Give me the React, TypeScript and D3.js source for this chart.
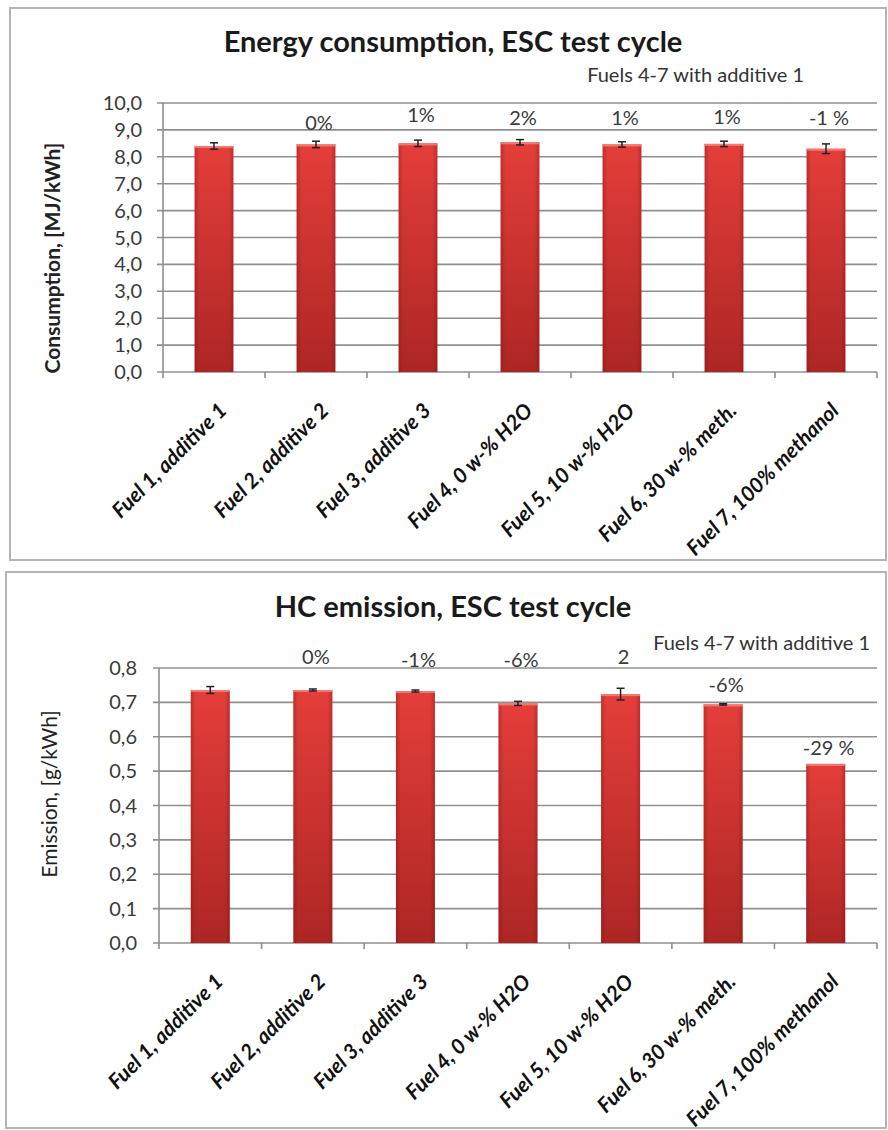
import React from "react";
import * as d3 from "d3";

const categories = [
  "Fuel 1, additive 1",
  "Fuel 2, additive 2",
  "Fuel 3, additive 3",
  "Fuel 4, 0 w-% H2O",
  "Fuel 5, 10 w-% H2O",
  "Fuel 6, 30 w-% meth.",
  "Fuel 7, 100% methanol",
];

// Energy consumption [MJ/kWh]
const energyValues = [8.4, 8.46, 8.5, 8.54, 8.46, 8.48, 8.3];
const energyErrors = [0.12, 0.12, 0.12, 0.1, 0.1, 0.1, 0.18];
const energyPctLabels = ["", "0%", "1%", "2%", "1%", "1%", "-1 %"];
const energyLabelLevel = [0, 9.26, 9.55, 9.44, 9.44, 9.48, 9.44];
const energyTicks = [0, 1, 2, 3, 4, 5, 6, 7, 8, 9, 10];

// HC emission [g/kWh]
const hcValues = [0.736, 0.736, 0.733, 0.697, 0.724, 0.694, 0.521];
const hcErrors = [0.01, 0.003, 0.003, 0.006, 0.017, 0.002, 0.0];
const hcPctLabels = ["", "0%", "-1%", "-6%", "2", "-6%", "-29 %"];
const hcLabelLevel = [0, 0.832, 0.823, 0.823, 0.832, 0.75, 0.567];
const hcTicks = [0, 0.1, 0.2, 0.3, 0.4, 0.5, 0.6, 0.7, 0.8];

const FONT = "Lato, 'Open Sans', sans-serif";
const fmtComma = (v: number) => d3.format(".1f")(v).replace(".", ",");

type ChartProps = {
  box: { x: number; y: number; w: number; h: number };
  plot: { left: number; right: number; top: number; bottom: number };
  title: string;
  titleY: number;
  noteX: number;
  noteY: number;
  yTitle: string;
  yTitleBold: boolean;
  yTitleX: number;
  yTitleY: number;
  tickLabelX: number;
  values: number[];
  errors: number[];
  pctLabels: string[];
  labelLevel: number[];
  ticks: number[];
  yMax: number;
  gradId: string;
};

function Chart(p: ChartProps) {
  const x = d3
    .scaleBand<string>()
    .domain(categories)
    .range([p.plot.left, p.plot.right])
    .paddingInner(0.62)
    .paddingOuter(0.31);
  const y = d3.scaleLinear().domain([0, p.yMax]).range([p.plot.bottom, p.plot.top]);
  const bw = x.bandwidth();
  const n = categories.length;
  const boundaries = d3.range(n + 1).map((i) => p.plot.left + (i * (p.plot.right - p.plot.left)) / n);
  return (
    <g>
      <rect x={p.box.x} y={p.box.y} width={p.box.w} height={p.box.h} fill="#fff" stroke="#b4b4b4" strokeWidth={2} />
      <text x={453} y={p.titleY} textAnchor="middle" fontFamily={FONT} fontWeight="bold" fontSize={29} fill="#1a1a1a">
        {p.title}
      </text>
      <text x={p.noteX} y={p.noteY} textAnchor="end" fontFamily={FONT} fontSize={20} fill="#333">
        Fuels 4-7 with additive 1
      </text>
      {p.ticks.map((t) => (
        <line key={"g" + t} x1={p.plot.left - 6} x2={p.plot.right} y1={y(t)} y2={y(t)} stroke="#8f8f8f" strokeWidth={1.6} />
      ))}
      <line x1={p.plot.left} x2={p.plot.left} y1={p.plot.top} y2={p.plot.bottom} stroke="#8f8f8f" strokeWidth={1.6} />
      {boundaries.map((b, i) => (
        <line key={"xt" + i} x1={b} x2={b} y1={p.plot.bottom} y2={p.plot.bottom + 6} stroke="#8f8f8f" strokeWidth={1.6} />
      ))}
      {p.ticks.map((t) => (
        <text key={"tl" + t} x={p.tickLabelX} y={y(t)} dy="0.35em" textAnchor="end" fontFamily={FONT} fontSize={20} fill="#3a3a3a">
          {fmtComma(t)}
        </text>
      ))}
      <text
        transform={`translate(${p.yTitleX},${p.yTitleY}) rotate(-90)`}
        textAnchor="middle"
        dy="0.35em"
        fontFamily={FONT}
        fontWeight={p.yTitleBold ? "bold" : "normal"}
        fontSize={21}
        fill="#222"
      >
        {p.yTitle}
      </text>
      {categories.map((c, i) => {
        const bx = x(c)!;
        const top = y(p.values[i]);
        return (
          <g key={"b" + i}>
            <rect x={bx} y={top} width={bw} height={p.plot.bottom - top} fill={`url(#${p.gradId})`} />
            <rect x={bx} y={top} width={bw} height={p.plot.bottom - top} fill="url(#edgeGrad)" />
            <rect x={bx} y={top} width={bw} height={2} fill="#f07a70" />
          </g>
        );
      })}
      {categories.map((c, i) => {
        const cx = x(c)! + bw / 2;
        const e = p.errors[i];
        if (!e) return null;
        const y1 = y(p.values[i] + e);
        const y2 = y(p.values[i] - e);
        return (
          <g key={"e" + i} stroke="#222" strokeWidth={1.5}>
            <line x1={cx} x2={cx} y1={y1} y2={y2} />
            <line x1={cx - 4} x2={cx + 4} y1={y1} y2={y1} />
            <line x1={cx - 4} x2={cx + 4} y1={y2} y2={y2} />
          </g>
        );
      })}
      {categories.map((c, i) =>
        p.pctLabels[i] ? (
          <text
            key={"p" + i}
            x={x(c)! + bw / 2 + 3}
            y={y(p.labelLevel[i])}
            dy="0.35em"
            textAnchor="middle"
            fontFamily={FONT}
            fontSize={20}
            fill="#3a3a3a"
          >
            {p.pctLabels[i]}
          </text>
        ) : null
      )}
      {categories.map((c, i) => {
        const cx = x(c)! + bw / 2;
        return (
          <text
            key={"c" + i}
            transform={`translate(${cx + 14},${p.plot.bottom + 40}) rotate(-45)`}
            textAnchor="end"
            fontFamily={FONT}
            fontWeight="bold"
            fontStyle="italic"
            fontSize={21}
            fill="#111"
          >
            {c}
          </text>
        );
      })}
    </g>
  );
}

export default function App() {
  return (
    <div style={{ position: "absolute", left: 0, top: 0, background: "#fff" }}>
      <svg width={888} height={1130} style={{ display: "block" }}>
        <defs>
          <linearGradient id="barGrad" x1="0" y1="0" x2="0" y2="1">
            <stop offset="0" stopColor="#e43e3a" />
            <stop offset="1" stopColor="#ad2624" />
          </linearGradient>
          <linearGradient id="edgeGrad" x1="0" y1="0" x2="1" y2="0">
            <stop offset="0" stopColor="#7a1010" stopOpacity={0.35} />
            <stop offset="0.12" stopColor="#7a1010" stopOpacity={0} />
            <stop offset="0.88" stopColor="#7a1010" stopOpacity={0} />
            <stop offset="1" stopColor="#7a1010" stopOpacity={0.35} />
          </linearGradient>
        </defs>
        <rect width={888} height={1130} fill="#fff" />
        <Chart
          box={{ x: 10, y: 8, w: 876, h: 552 }}
          plot={{ left: 163, right: 877, top: 103, bottom: 372 }}
          title="Energy consumption, ESC test cycle"
          titleY={52}
          noteX={804}
          noteY={82}
          yTitle="Consumption, [MJ/kWh]"
          yTitleBold={true}
          yTitleX={53}
          yTitleY={258}
          tickLabelX={142}
          values={energyValues}
          errors={energyErrors}
          pctLabels={energyPctLabels}
          labelLevel={energyLabelLevel}
          ticks={energyTicks}
          yMax={10}
          gradId="barGrad"
        />
        <Chart
          box={{ x: 6, y: 572, w: 880, h: 556 }}
          plot={{ left: 159, right: 877, top: 668, bottom: 943 }}
          title="HC emission, ESC test cycle"
          titleY={617}
          noteX={870}
          noteY={650}
          yTitle="Emission, [g/kWh]"
          yTitleBold={false}
          yTitleX={50}
          yTitleY={794}
          tickLabelX={137}
          values={hcValues}
          errors={hcErrors}
          pctLabels={hcPctLabels}
          labelLevel={hcLabelLevel}
          ticks={hcTicks}
          yMax={0.8}
          gradId="barGrad"
        />
      </svg>
    </div>
  );
}
